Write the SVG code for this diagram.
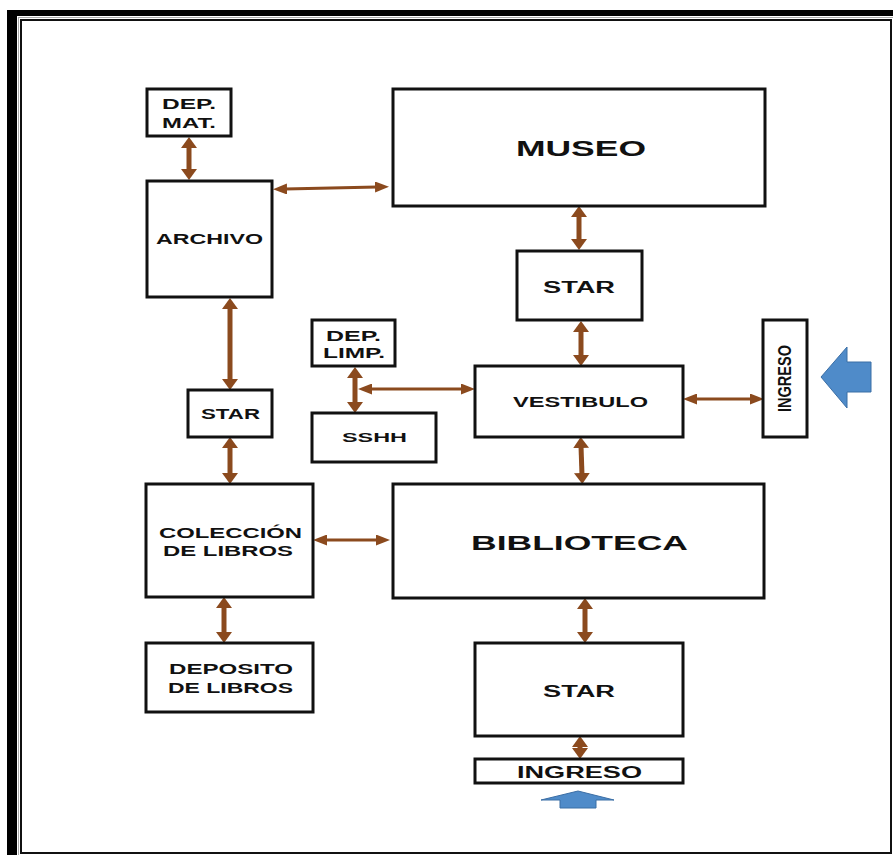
<svg xmlns="http://www.w3.org/2000/svg" width="893" height="855" viewBox="0 0 893 855">
<defs>
<style>
.box{fill:#fff;stroke:#111;stroke-width:3}
.t{font-family:"Liberation Sans",Arial,sans-serif;font-weight:bold;fill:#111}
.ck{stroke:#8B4A1E;stroke-width:5;fill:none;marker-start:url(#hT);marker-end:url(#hT)}
.cn{stroke:#8B4A1E;stroke-width:3;fill:none;marker-start:url(#hN);marker-end:url(#hN)}
.blue{fill:#4F8BC9;stroke:#3B6EA5;stroke-width:1}
</style>
<marker id="hT" markerUnits="userSpaceOnUse" markerWidth="11" markerHeight="16" viewBox="0 0 11 16" refX="2" refY="8" orient="auto-start-reverse"><path d="M0,0 L11,8 L0,16 z" fill="#8B4A1E"/></marker>
<marker id="hN" markerUnits="userSpaceOnUse" markerWidth="14" markerHeight="11" viewBox="0 0 14 11" refX="2" refY="5.5" orient="auto-start-reverse"><path d="M0,0 L14,5.5 L0,11 z" fill="#8B4A1E"/></marker>
</defs>
<rect width="893" height="855" fill="#fff"/>
<g id="frame">
<rect x="7" y="10" width="886" height="6" fill="#000"/>
<rect x="7" y="10" width="10" height="845" fill="#000"/>
<line x1="18" y1="17.5" x2="893" y2="17.5" stroke="#aaa" stroke-width="1"/>
<line x1="18.5" y1="17" x2="18.5" y2="855" stroke="#aaa" stroke-width="1"/>
<rect x="21" y="20" width="870" height="833" fill="none" stroke="#111" stroke-width="2"/>
</g>
<g id="connectors">
<line class="ck" x1="189" y1="146" x2="189" y2="171"/>
<line class="cn" x1="285" y1="189" x2="377" y2="187"/>
<line class="ck" x1="579" y1="215" x2="579" y2="241"/>
<line class="ck" x1="581" y1="330" x2="581" y2="357"/>
<line class="ck" x1="230" y1="307" x2="230" y2="381"/>
<line class="ck" x1="230" y1="446" x2="230" y2="475"/>
<line class="ck" x1="355" y1="376" x2="355" y2="404"/>
<line class="cn" x1="370" y1="389" x2="463" y2="389"/>
<line class="cn" x1="695" y1="399" x2="752" y2="399"/>
<line class="ck" x1="581" y1="446" x2="582" y2="475"/>
<line class="cn" x1="325" y1="540" x2="378" y2="540"/>
<line class="ck" x1="224" y1="606" x2="224" y2="634"/>
<line class="ck" x1="585" y1="607" x2="585" y2="634"/>
<line class="ck" x1="580" y1="745" x2="580" y2="750"/>
</g>
<g id="dep-mat"><rect class="box" x="147" y="89" width="84" height="47"/>
<text class="t" x="162" y="109" font-size="14" textLength="54" lengthAdjust="spacingAndGlyphs">DEP.</text>
<text class="t" x="162" y="128" font-size="14" textLength="54" lengthAdjust="spacingAndGlyphs">MAT.</text></g>
<g id="archivo"><rect class="box" x="147" y="181" width="125" height="116"/>
<text class="t" x="156" y="244" font-size="14.5" textLength="107" lengthAdjust="spacingAndGlyphs">ARCHIVO</text></g>
<g id="museo"><rect class="box" x="393" y="89" width="372" height="117"/>
<text class="t" x="516" y="156" font-size="22" textLength="130" lengthAdjust="spacingAndGlyphs">MUSEO</text></g>
<g id="star-museo"><rect class="box" x="517" y="251" width="125" height="69"/>
<text class="t" x="543" y="293" font-size="16" textLength="72" lengthAdjust="spacingAndGlyphs">STAR</text></g>
<g id="star-archivo"><rect class="box" x="188" y="390" width="84" height="47"/>
<text class="t" x="201" y="419" font-size="14" textLength="59" lengthAdjust="spacingAndGlyphs">STAR</text></g>
<g id="dep-limp"><rect class="box" x="312" y="320" width="83" height="46"/>
<text class="t" x="326" y="341" font-size="14" textLength="55" lengthAdjust="spacingAndGlyphs">DEP.</text>
<text class="t" x="323" y="358" font-size="14" textLength="62" lengthAdjust="spacingAndGlyphs">LIMP.</text></g>
<g id="sshh"><rect class="box" x="312" y="413" width="124" height="49"/>
<text class="t" x="342" y="442" font-size="13" textLength="65" lengthAdjust="spacingAndGlyphs">SSHH</text></g>
<g id="vestibulo"><rect class="box" x="475" y="366" width="208" height="71"/>
<text class="t" x="513" y="407" font-size="14" textLength="135" lengthAdjust="spacingAndGlyphs">VESTIBULO</text></g>
<g id="ingreso-lateral"><rect class="box" x="763" y="320" width="44" height="117"/>
<text class="t" transform="translate(791,412) rotate(-90)" x="0" y="0" font-size="18" textLength="67" lengthAdjust="spacingAndGlyphs">INGRESO</text></g>
<g id="coleccion"><rect class="box" x="146" y="484" width="167" height="113"/>
<text class="t" x="159" y="538" font-size="14" textLength="143" lengthAdjust="spacingAndGlyphs">COLECCIÓN</text>
<text class="t" x="163" y="556" font-size="14" textLength="130" lengthAdjust="spacingAndGlyphs">DE LIBROS</text></g>
<g id="biblioteca"><rect class="box" x="393" y="484" width="371" height="114"/>
<text class="t" x="471" y="550" font-size="20" textLength="217" lengthAdjust="spacingAndGlyphs">BIBLIOTECA</text></g>
<g id="deposito"><rect class="box" x="146" y="643" width="167" height="69"/>
<text class="t" x="169" y="674" font-size="14" textLength="124" lengthAdjust="spacingAndGlyphs">DEPOSITO</text>
<text class="t" x="168" y="693" font-size="14" textLength="125" lengthAdjust="spacingAndGlyphs">DE LIBROS</text></g>
<g id="star-biblioteca"><rect class="box" x="475" y="643" width="208" height="93"/>
<text class="t" x="543" y="697" font-size="16" textLength="72" lengthAdjust="spacingAndGlyphs">STAR</text></g>
<g id="ingreso-principal"><rect class="box" x="475" y="759" width="208" height="24"/>
<text class="t" x="517" y="778" font-size="16" textLength="125" lengthAdjust="spacingAndGlyphs">INGRESO</text></g>
<g id="flecha-lateral"><polygon class="blue" points="821,377 847,347 847,362 871,362 871,392 847,392 847,408"/></g>
<g id="flecha-principal"><polygon class="blue" points="578,791 614,800 596,800 596,808 560,808 560,800 541,800"/></g>
</svg>
